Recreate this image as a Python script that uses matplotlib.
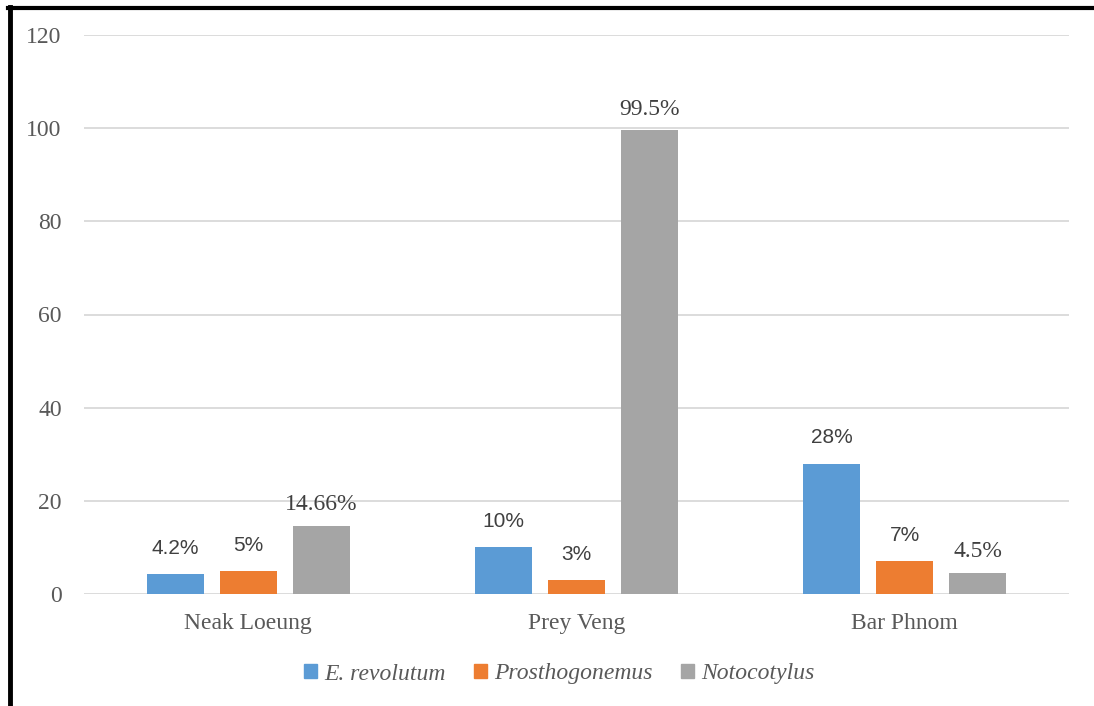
import matplotlib
matplotlib.use("Agg")
import matplotlib.pyplot as plt
import numpy as np
from matplotlib.lines import Line2D
from matplotlib.patches import Patch

categories = ["Neak Loeung", "Prey Veng", "Bar Phnom"]
series_names = ["E. revolutum", "Prosthogonemus", "Notocotylus"]
e_revolutum = [4.2, 10, 28]
prosthogonemus = [5, 3, 7]
notocotylus = [14.66, 99.5, 4.5]
labels_e = ["4.2%", "10%", "28%"]
labels_p = ["5%", "3%", "7%"]
labels_n = ["14.66%", "99.5%", "4.5%"]
yticks = [0, 20, 40, 60, 80, 100, 120]

colors = ["#5b9bd5", "#ed7d31", "#a5a5a5"]
series = [e_revolutum, prosthogonemus, notocotylus]
labels = [labels_e, labels_p, labels_n]
# fonts used for labels: sans for some, serif for others (as in reference)
label_fonts = ["Liberation Sans", "Liberation Sans", "Liberation Serif"]
label_sizes = [15, 15, 17]
label_offsets = [5.5, 5.5, 4.6]

fig = plt.figure(figsize=(10.94, 7.06), dpi=100)
ax = fig.add_axes([84/1094, 1-594/706, (1069-84)/1094, (594-35)/706])

x = np.arange(len(categories))
width = 0.174
step = 0.2225
for i, (vals, col) in enumerate(zip(series, colors)):
    offs = (i - 1) * step
    bars = ax.bar(x + offs, vals, width=width, color=col, zorder=3, label=series_names[i])
    for j, b in enumerate(bars):
        ax.text(b.get_x() + b.get_width()/2, vals[j] + label_offsets[i], labels[i][j],
                ha="center", va="center", fontsize=label_sizes[i], color="#404040",
                family=label_fonts[i])

ax.set_xlim(-0.5, 2.5)
ax.set_ylim(0, 120)
ax.set_yticks(yticks)
ax.set_xticks(x)
ax.set_xticklabels(categories)
for lab in ax.get_xticklabels() + ax.get_yticklabels():
    lab.set_family("Liberation Serif")
    lab.set_fontsize(17)
    lab.set_color("#595959")
ax.tick_params(axis="both", length=0)
ax.tick_params(axis="y", pad=16)
ax.tick_params(axis="x", pad=14)
ax.grid(axis="y", color="#d9d9d9", linewidth=1.3, zorder=0)
for s in ax.spines.values():
    s.set_visible(False)

handles = [Patch(color=c) for c in colors]
leg = fig.legend(handles, series_names, loc="center", bbox_to_anchor=(559/1094, 1-674/706),
                 ncol=3, frameon=False, handlelength=0.55, handleheight=0.55,
                 handletextpad=0.3, columnspacing=1.2,
                 prop={"family": "Liberation Serif", "style": "italic", "size": 17})
for t in leg.get_texts():
    t.set_color("#595959")

# outer black border (left and top)
fig.add_artist(Line2D([10/1094, 10/1094], [0, 1-7/706], color="black", linewidth=3.5,
                      transform=fig.transFigure))
fig.add_artist(Line2D([8/1094, 1], [1-8/706, 1-8/706], color="black", linewidth=3.0,
                      transform=fig.transFigure))

fig.savefig("out.png", dpi=100)
